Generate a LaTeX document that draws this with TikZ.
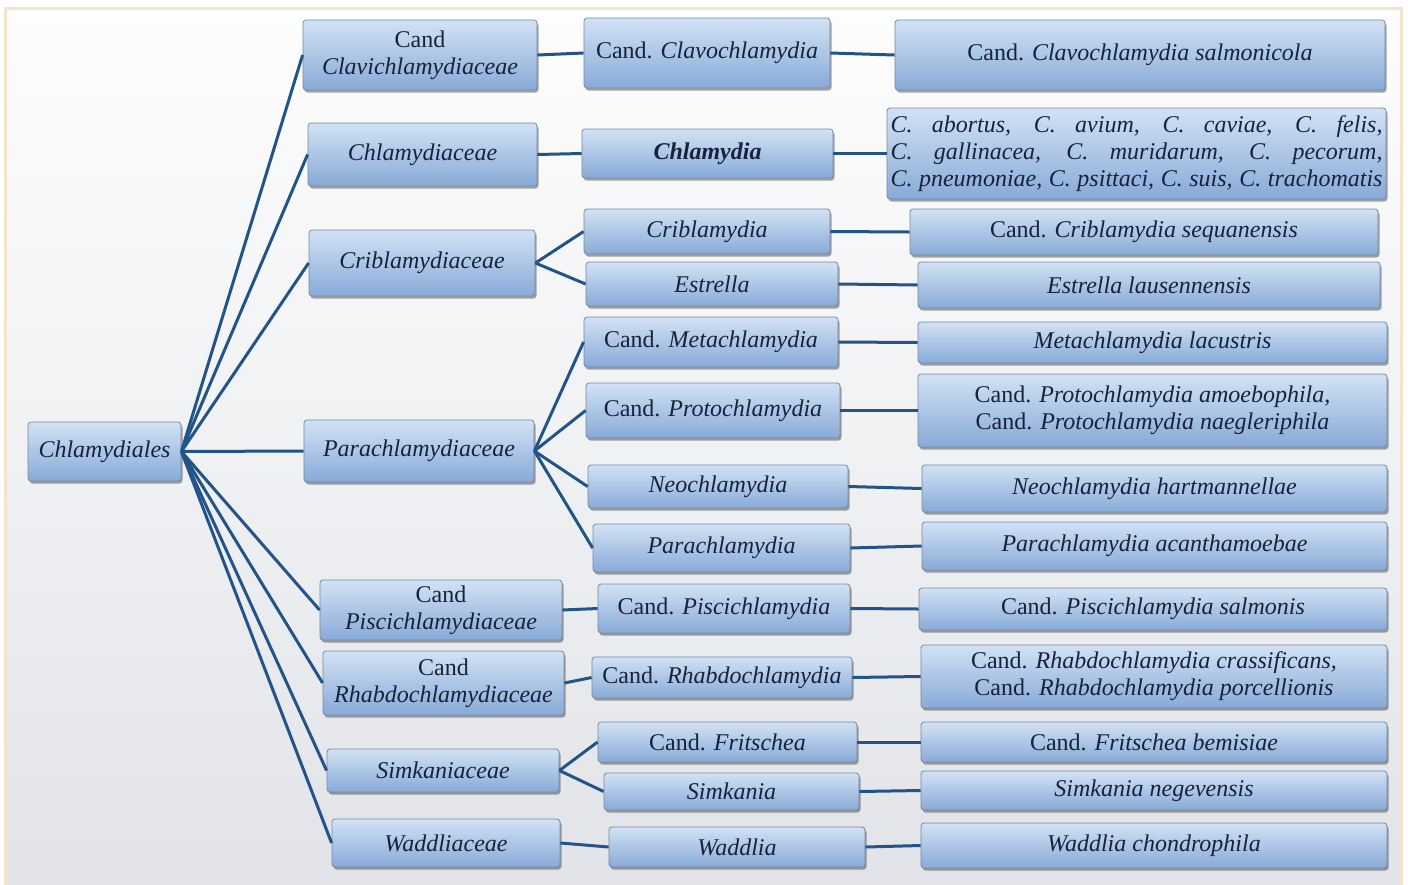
\documentclass[tikz,border=0pt]{standalone}
\usepackage{fontspec}
\setmainfont{Liberation Serif}
\usetikzlibrary{shadows}
\definecolor{boxtop}{HTML}{D2E2F5}
\definecolor{boxbot}{HTML}{88AAD7}
\definecolor{boxline}{HTML}{7489A3}
\definecolor{txt}{HTML}{18223C}
\definecolor{conncol}{HTML}{235489}
\definecolor{bgtop}{HTML}{FDFDFD}
\definecolor{bgbot}{HTML}{E1E3E8}
\definecolor{frame}{HTML}{F4E4CC}
\tikzset{
  box/.style={draw=boxline, line width=0.8pt, rounded corners=3pt,
    top color=boxtop, bottom color=boxbot,
    drop shadow={shadow xshift=1.5pt, shadow yshift=-2.5pt, fill=black, opacity=0.35},
    text=txt, font=\fontsize{24}{27}\selectfont\itshape, align=center, inner sep=2pt},
  conn/.style={draw=conncol, line width=3pt},
}
\newcommand\bx[7][]{%
  \pgfmathsetmacro\bxW{#5-#3}\pgfmathsetmacro\bxH{#6-#4}%
  \pgfmathsetmacro\bxX{(#3+#5)/2}\pgfmathsetmacro\bxY{(#4+#6)/2}%
  \node[box,minimum width=\bxW pt,minimum height=\bxH pt,#1] (#2) at (\bxX,\bxY) {#7};}
\newcommand\cnd{\textup{Cand.}}
\begin{document}
\begin{tikzpicture}[x=1pt,y=-1pt]
\useasboundingbox (0,0) rectangle (1408,884);
\fill[white] (0,0) rectangle (1408,884);
\shade[top color=bgtop, bottom color=bgbot, middle color=bgtop!55!bgbot] (5,8) rectangle (1401,884);
\draw[frame, line width=3pt] (5,890) -- (5,8) -- (1401,8) -- (1401,890);
% root
\bx{root}{28}{422}{181}{481}{Chlamydiales}
% families
\bx{f1}{303}{20}{537}{90}{\textup{Cand}\\Clavichlamydiaceae}
\bx{f2}{308}{123}{537}{186}{Chlamydiaceae}
\bx{f3}{309}{230}{535}{296}{Criblamydiaceae}
\bx{f4}{304}{420}{534}{482}{Parachlamydiaceae}
\bx{f5}{320}{580}{562}{640}{\textup{Cand}\\Piscichlamydiaceae}
\bx{f6}{323}{651}{564}{715}{\textup{Cand}\\Rhabdochlamydiaceae}
\bx{f7}{327}{749}{559}{792}{Simkaniaceae}
\bx{f8}{332}{819}{560}{867}{Waddliaceae}
% genera
\bx{g1}{584}{18}{830}{88}{\cnd{} Clavochlamydia}
\bx{g2}{582}{129}{833}{178}{\textbf{Chlamydia}}
\bx{g3}{584}{209}{830}{254}{Criblamydia}
\bx{g4}{586}{262}{838}{306}{Estrella}
\bx{g5}{584}{317}{838}{367}{\cnd{} Metachlamydia}
\bx{g6}{586}{383}{840}{438}{\cnd{} Protochlamydia}
\bx{g7}{588}{465}{848}{508}{Neochlamydia}
\bx{g8}{593}{524}{850}{572}{Parachlamydia}
\bx{g9}{598}{584}{850}{633}{\cnd{} Piscichlamydia}
\bx{g10}{592}{657}{852}{698}{\cnd{} Rhabdochlamydia}
\bx{g11}{598}{722}{857}{762}{\cnd{} Fritschea}
\bx{g12}{604}{773}{859}{810}{Simkania}
\bx{g13}{609}{827}{865}{867}{Waddlia}
% species
\bx{s1}{895}{20}{1385}{90}{\cnd{} Clavochlamydia salmonicola}
\bx{s2}{887}{108}{1386}{199}{\makebox[492pt][s]{C. abortus, C. avium, C. caviae, C. felis,}\\\makebox[492pt][s]{C. gallinacea, C. muridarum, C. pecorum,}\\\makebox[492pt][s]{C. pneumoniae, C. psittaci, C. suis, C. trachomatis}}
\bx{s3}{910}{209}{1378}{255}{\cnd{} Criblamydia sequanensis}
\bx{s4}{918}{262}{1380}{308}{Estrella lausennensis}
\bx{s5}{918}{322}{1387}{363}{Metachlamydia lacustris}
\bx{s6}{918}{374}{1387}{447}{\cnd{} Protochlamydia amoebophila,\\\cnd{} Protochlamydia naegleriphila}
\bx{s7}{922}{465}{1387}{512}{Neochlamydia hartmannellae}
\bx{s8}{922}{522}{1387}{570}{Parachlamydia acanthamoebae}
\bx{s9}{919}{588}{1387}{630}{\cnd{} Piscichlamydia salmonis}
\bx{s10}{921}{645}{1387}{708}{\cnd{} Rhabdochlamydia crassificans,\\\cnd{} Rhabdochlamydia porcellionis}
\bx{s11}{921}{722}{1387}{762}{\cnd{} Fritschea bemisiae}
\bx{s12}{921}{771}{1387}{810}{Simkania negevensis}
\bx{s13}{921}{823}{1387}{868}{Waddlia chondrophila}
% connectors root -> families
\foreach \f in {f1,f2,f3,f4,f5,f6,f7,f8}
  \draw[conn] (root.east) -- (\f.west);
% families -> genera
\draw[conn] (f1.east) -- (g1.west);
\draw[conn] (f2.east) -- (g2.west);
\draw[conn] (f3.east) -- (g3.west);
\draw[conn] (f3.east) -- (g4.west);
\foreach \g in {g5,g6,g7,g8}
  \draw[conn] (f4.east) -- (\g.west);
\draw[conn] (f5.east) -- (g9.west);
\draw[conn] (f6.east) -- (g10.west);
\draw[conn] (f7.east) -- (g11.west);
\draw[conn] (f7.east) -- (g12.west);
\draw[conn] (f8.east) -- (g13.west);
% genera -> species
\foreach \i in {1,...,13}
  \draw[conn] (g\i.east) -- (s\i.west);
\end{tikzpicture}
\end{document}
